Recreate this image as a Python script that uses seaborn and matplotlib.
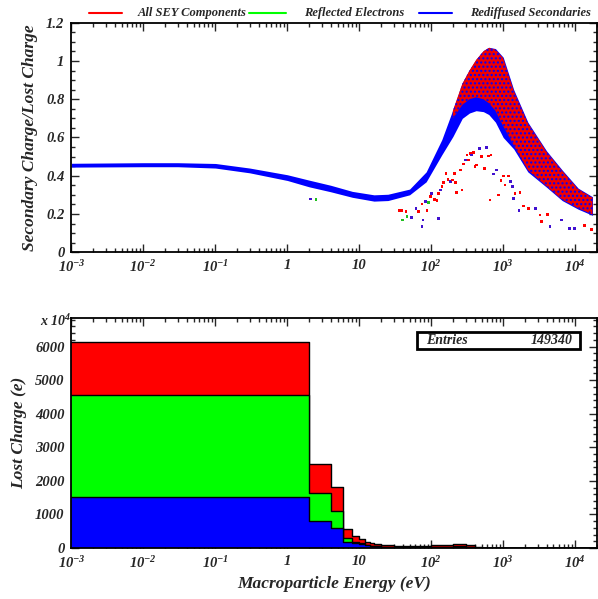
import numpy as np
import pandas as pd
import matplotlib
matplotlib.use("Agg")
import matplotlib.pyplot as plt
import matplotlib.ticker as mticker
from matplotlib.lines import Line2D
from matplotlib.patches import Rectangle
import seaborn as sns

# ---- top panel: SEY band (edges) ----
band_energy = [0.001, 0.01, 0.03, 0.1, 0.3, 1, 2, 4, 8, 16, 25, 50, 85, 140, 200, 270,
               340, 420, 530, 630, 780, 1000, 1400, 2200, 4000, 6600, 11000, 17400]
band_upper = [0.465, 0.468, 0.468, 0.464, 0.44, 0.405, 0.377, 0.35, 0.318, 0.30, 0.303, 0.33,
              0.42, 0.588, 0.746, 0.886, 0.955, 1.01, 1.055, 1.072, 1.065, 1.02, 0.85, 0.68,
              0.53, 0.43, 0.335, 0.29]
band_lower = [0.445, 0.447, 0.447, 0.44, 0.415, 0.375, 0.342, 0.316, 0.287, 0.267, 0.27, 0.30,
              0.368, 0.509, 0.605, 0.70, 0.728, 0.74, 0.735, 0.72, 0.68, 0.60, 0.54, 0.42,
              0.34, 0.27, 0.225, 0.193]

# part of the band where the red (all components) points dominate
speckle_energy = [200, 270, 340, 420, 530, 630, 780, 1000, 1400, 2200, 4000, 6600, 11000, 17400]
speckle_upper = [0.74, 0.88, 0.95, 1.005, 1.05, 1.068, 1.06, 1.015, 0.845, 0.675, 0.525, 0.425, 0.33, 0.285]
speckle_lower = [0.70, 0.77, 0.80, 0.81, 0.80, 0.78, 0.74, 0.66, 0.56, 0.43, 0.345, 0.275, 0.23, 0.197]

# scattered points below the band
pt_energy = [2.1, 2.5, 38.5, 44.7, 40.2, 46.1, 53, 61.5, 67, 74.5, 76.9, 82.8, 87.3, 92, 97, 102,
             111, 120, 127, 134, 141, 149, 160, 171, 184, 198, 211, 220, 227, 253, 267, 281,
             297, 313, 330, 348, 367, 386, 407, 430, 463, 505, 550, 592, 624, 658, 679, 731,
             814, 859, 935, 1007, 1062, 1181, 1272, 1341, 1400, 1460, 1660, 1713, 1905, 2236,
             2825, 3243, 3420, 4140, 4460, 6470, 8440, 9890, 13600, 16800, 127, 74.5, 36.1]
pt_value = [0.278, 0.275, 0.217, 0.211, 0.168, 0.185, 0.182, 0.229, 0.211, 0.252, 0.168, 0.264,
            0.220, 0.259, 0.290, 0.307, 0.276, 0.269, 0.307, 0.325, 0.342, 0.363, 0.412, 0.381,
            0.369, 0.377, 0.412, 0.363, 0.311, 0.430, 0.325, 0.461, 0.482, 0.508, 0.482, 0.517,
            0.508, 0.521, 0.447, 0.456, 0.543, 0.500, 0.438, 0.549, 0.503, 0.273, 0.508, 0.409,
            0.430, 0.299, 0.374, 0.398, 0.351, 0.398, 0.369, 0.342, 0.281, 0.307, 0.220, 0.311,
            0.241, 0.229, 0.229, 0.194, 0.159, 0.199, 0.136, 0.168, 0.124, 0.124, 0.141, 0.119,
            0.176, 0.136, 0.217]
pt_comp = list("bg" "rr" "gg" "bb" "rr" "bb" "r" "g" "r" "b" "rrr" "b" "rrrr" "b" "rrrrrrr" "b"
               "rrr" "b" "rrr" "b" "rr" "b" "rrr" "bb" "rrrrr" "bbb" "r" "b" "rrr" "b" "rrr"
               "bbbb" "rr" "bb" "r")

# ---- bottom panel: lost charge histograms ----
bin_edges = [0, 2, 4, 6, 8, 10, 12, 14, 16, 20, 30, 50, 100, 200, 300, 400, 500, 1000, 20000]
all_sey = [6150, 2494, 1810, 557, 358, 258, 169, 140, 125, 100, 75, 70, 100, 115, 95, 20, 5, 0]
reflected = [4570, 1630, 1094, 307, 188, 139, 95, 75, 60, 45, 35, 30, 45, 50, 40, 10, 3, 0]
rediffused = [1510, 805, 605, 188, 139, 109, 80, 60, 48, 35, 28, 25, 35, 40, 30, 8, 2, 0]

series_names = ["All SEY Components", "Reflected Electrons", "Rediffused Secondaries"]
series_colors = ["#ff0000", "#00ff00", "#0000ff"]
entries = 149340

sns.set_theme(style="ticks")
plt.rcParams["font.family"] = ["Liberation Serif", "DejaVu Serif"]
plt.rcParams["font.weight"] = "bold"
plt.rcParams["font.style"] = "italic"
plt.rcParams["axes.labelweight"] = "bold"
plt.rcParams["mathtext.fontset"] = "custom"
plt.rcParams["mathtext.rm"] = "Liberation Serif:bold:italic"
plt.rcParams["mathtext.it"] = "Liberation Serif:bold:italic"
plt.rcParams["mathtext.bf"] = "Liberation Serif:bold:italic"
plt.rcParams["hatch.linewidth"] = 1.0

fig = plt.figure(figsize=(5.98, 5.99), dpi=100)
ax1 = fig.add_axes([0.1195, 0.579, 0.8785, 0.383])
ax2 = fig.add_axes([0.1195, 0.0851, 0.8785, 0.384])

# top panel
ax1.fill_between(band_energy, band_lower, band_upper, color=series_colors[2], lw=0)
ax1.fill_between(speckle_energy, speckle_lower, speckle_upper, facecolor="#f00000",
                 edgecolor=series_colors[2], hatch="....", lw=0)
pts = pd.DataFrame({"energy": pt_energy, "value": pt_value, "comp": pt_comp})
sns.scatterplot(data=pts, x="energy", y="value", hue="comp",
                palette={"r": series_colors[0], "g": "#20c020", "b": "#4010d0"},
                marker="s", s=4, linewidth=0, legend=False, ax=ax1)
ax1.set_xscale("log")
ax1.set_xlim(1e-3, 2e4)
ax1.set_ylim(0, 1.2)
ax1.set_xlabel("")
ax1.set_ylabel("Secondary Charge/Lost Charge", fontsize=12.5, labelpad=6)
ax1.yaxis.set_major_locator(mticker.MultipleLocator(0.2))
ax1.yaxis.set_minor_locator(mticker.MultipleLocator(0.05))
ax1.yaxis.set_major_formatter(mticker.FuncFormatter(lambda v, p: "0" if v == 0 else ("1" if abs(v - 1) < 1e-9 else f"{v:.1f}")))

# bottom panel (overlaid, largest first)
centers = [(a + b) / 2 for a, b in zip(bin_edges[:-1], bin_edges[1:])]
for vals, col in zip([all_sey, reflected, rediffused], series_colors):
    sns.histplot(x=centers, weights=vals, bins=bin_edges, element="step", fill=True,
                 color=col, alpha=1, edgecolor="black", linewidth=1, ax=ax2)
ax2.set_xscale("log")
ax2.set_xlim(1e-3, 2e4)
ax2.set_ylim(0, 6850)
ax2.set_xlabel("Macroparticle Energy (eV)", fontsize=12.5, labelpad=4)
ax2.set_ylabel("Lost Charge (e)", fontsize=12.5, labelpad=6)
ax2.yaxis.set_major_locator(mticker.MultipleLocator(1000))
ax2.yaxis.set_minor_locator(mticker.MultipleLocator(200))

dec_labels = {1e-3: r"$10^{-3}$", 1e-2: r"$10^{-2}$", 1e-1: r"$10^{-1}$", 1: "1", 10: "10",
              1e2: r"$10^{2}$", 1e3: r"$10^{3}$", 1e4: r"$10^{4}$"}
for ax in (ax1, ax2):
    ax.xaxis.set_major_locator(mticker.FixedLocator(list(dec_labels.keys())))
    ax.xaxis.set_major_formatter(mticker.FixedFormatter(list(dec_labels.values())))
    ax.xaxis.set_minor_locator(mticker.LogLocator(base=10, subs=np.arange(2, 10), numticks=20))
    ax.xaxis.set_minor_formatter(mticker.NullFormatter())
    ax.tick_params(which="both", direction="in", top=True, right=True, labelsize=10.5, width=1)
    ax.tick_params(which="major", length=6, pad=5)
    ax.tick_params(which="minor", length=3)
    for s in ax.spines.values():
        s.set_linewidth(1.3)
        s.set_color("black")
    ax.set_facecolor("white")

fig.text(40 / 598, 1 - 326 / 599, r"x $10^{4}$", fontsize=10)

ax2.add_patch(Rectangle((0.657, 0.866), 0.311, 0.074, transform=ax2.transAxes,
                        facecolor="white", edgecolor="black", lw=2, zorder=5))
ax2.text(0.675, 0.903, "Entries", transform=ax2.transAxes, fontsize=10, va="center", ha="left", zorder=6)
ax2.text(0.955, 0.903, str(entries), transform=ax2.transAxes, fontsize=10, va="center", ha="right", zorder=6)

# legend across the top, laid out like the original
leg_line_x = [(89, 122), (249, 286), (419, 452)]
leg_text_x = [138, 304, 470]
leg_y = 1 - 13 / 599
for (x0, x1), tx, name, col in zip(leg_line_x, leg_text_x, series_names, series_colors):
    fig.add_artist(Line2D([x0 / 598, x1 / 598], [leg_y, leg_y], color=col, lw=1.5,
                          transform=fig.transFigure))
    fig.text(tx / 598, leg_y, name, fontsize=9, va="center", ha="left")

fig.savefig("out.png", dpi=100, facecolor="white")
